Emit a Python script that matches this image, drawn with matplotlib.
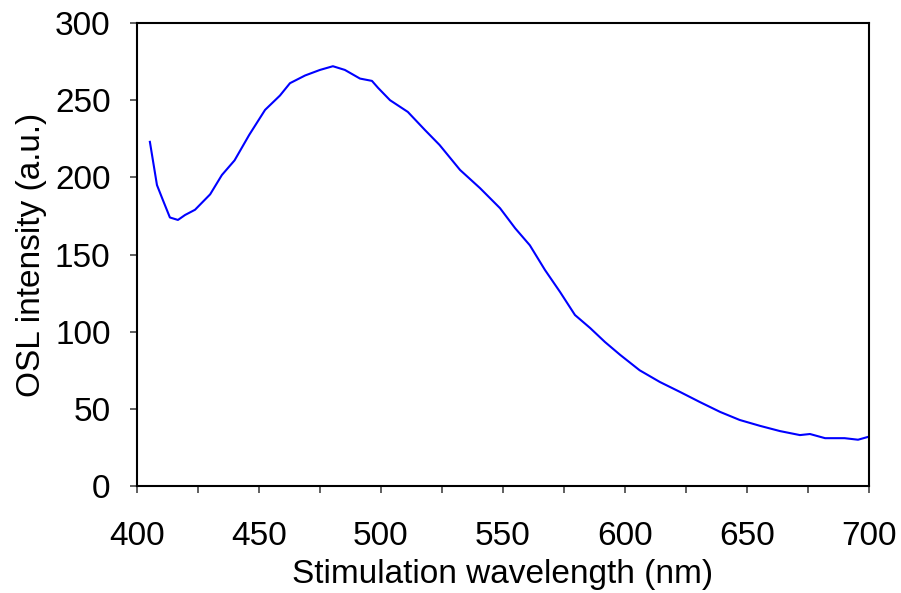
import matplotlib
matplotlib.use("Agg")
import matplotlib.pyplot as plt
from matplotlib.ticker import MultipleLocator

# OSL stimulation spectrum
wavelength = [405.3, 408.2, 410.7, 413.5, 416.8, 419.7, 423.8, 430.0, 434.8, 440.0,
              446.0, 452.5, 458.6, 462.7, 468.9, 475.0, 480.3, 485.2, 491.4, 496.3,
              498.8, 503.7, 511.0, 518.0, 524.0, 532.4, 540.6, 548.8, 555.0, 561.0,
              567.2, 573.4, 579.5, 585.7, 591.8, 598.0, 606.0, 614.3, 622.5, 630.7,
              639.0, 647.0, 655.3, 663.5, 671.7, 675.8, 682.0, 690.0, 695.5, 700.0]
intensity = [223.0, 195.0, 185.0, 174.0, 172.4, 175.6, 179.0, 189.0, 201.5, 211.0,
             227.5, 243.7, 253.0, 261.0, 266.0, 269.6, 272.0, 269.6, 264.0, 262.5,
             258.0, 250.0, 242.4, 230.7, 221.0, 204.8, 193.0, 180.0, 167.0, 156.0,
             140.0, 125.7, 110.8, 102.4, 93.3, 85.0, 75.0, 67.4, 61.0, 54.4,
             48.0, 42.8, 39.0, 35.6, 33.0, 33.7, 31.0, 31.0, 30.0, 32.0]

plt.rcParams['font.family'] = ['Liberation Sans', 'DejaVu Sans']

fig = plt.figure(figsize=(9.01, 5.93), dpi=100)
ax = fig.add_axes([0.152, 0.1804, 0.8125, 0.7808])

ax.plot(wavelength, intensity, color='#0000ff', lw=1.5)

ax.set_xlim(400, 700)
ax.set_ylim(0, 300)
ax.xaxis.set_major_locator(MultipleLocator(50))
ax.xaxis.set_minor_locator(MultipleLocator(25))
ax.yaxis.set_major_locator(MultipleLocator(50))

for s in ax.spines.values():
    s.set_linewidth(1.5)
ax.tick_params(axis='x', which='both', direction='out', length=5, width=1.2,
               labelsize=24, pad=20, color='#444444')
ax.tick_params(axis='y', which='both', direction='out', length=5, width=1.2,
               labelsize=24, pad=14, color='#444444')

ax.set_xlabel('Stimulation wavelength (nm)', fontsize=24, labelpad=5)
ax.set_ylabel('OSL intensity (a.u.)', fontsize=24, labelpad=6)

fig.savefig('out.png', dpi=100)
